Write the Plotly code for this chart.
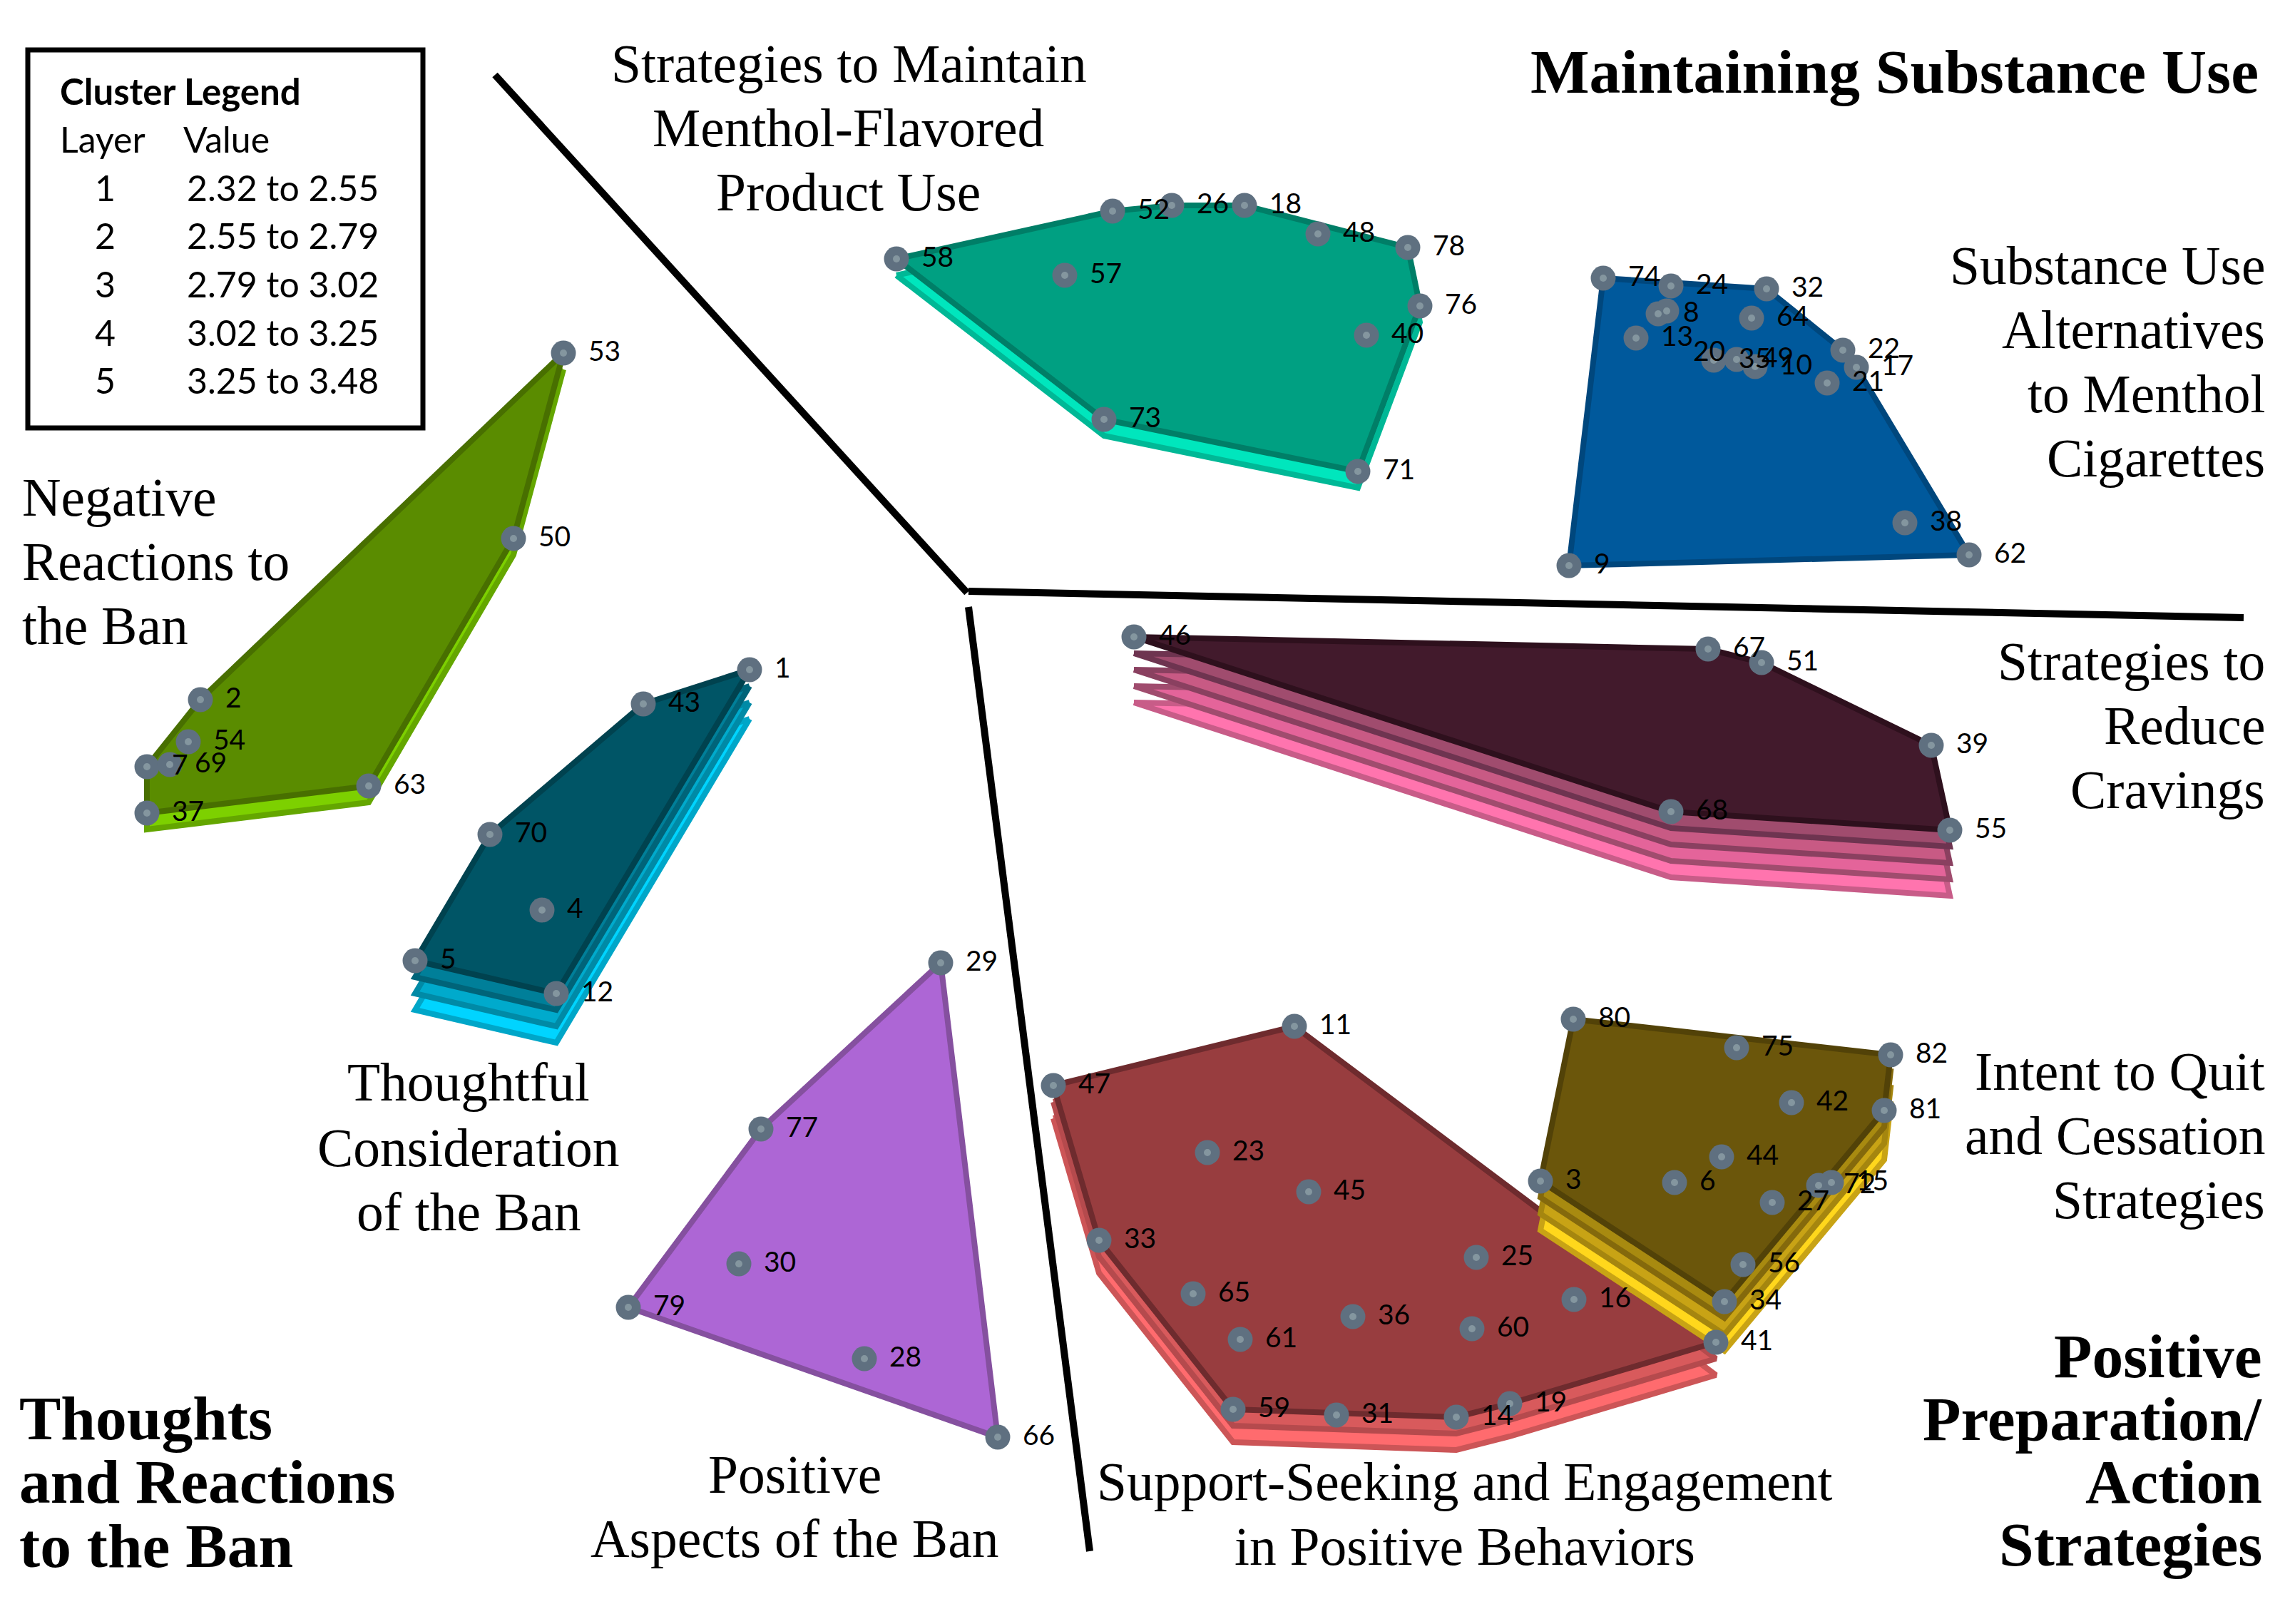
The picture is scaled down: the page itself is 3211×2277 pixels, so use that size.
import plotly.graph_objects as go

# Concept map points (x, y on the map plane)
concept_ids = [1,2,3,4,5,6,7,8,9,10,11,12,13,14,15,16,17,18,19,20,21,22,23,24,25,26,27,28,29,30,31,32,33,34,35,36,37,38,39,40,41,
               42,43,44,45,46,47,48,49,50,51,52,53,54,55,56,57,58,59,60,61,62,63,64,65,66,67,68,69,70,71,72,73,74,75,76,77,78,79,80,81,82]
concept_x = [1051,281,2160,760,582,2348,206,2325,2200,2461,1815,780,2294,2042,2568,2207,2603,1745,2117,2337,2562,2584,1693,2343,2070,1643,2485,1212,1319,1036,1874,2477,1541,2418,2403,1897,206,2671,2708,1916,2406,
             2512,902,2414,1835,1590,1477,1848,2435,720,2470,1560,790,264,2734,2444,1493,1257,1729,2064,1739,2761,517,2456,1673,1399,2395,2343,238,687,1904,2550,1548,2248,2435,1991,1067,1974,881,2206,2642,2651]
concept_y = [939,981,1656,1276,1347,1658,1075,440,793,514,1439,1393,474,1987,1658,1822,515,288,1968,436,537,491,1616,401,1763,288,1686,1905,1350,1772,1984,405,1739,1825,505,1846,1140,733,1045,470,1882,
             1546,987,1622,1671,893,1522,328,504,755,929,296,495,1040,1164,1773,386,363,1976,1863,1878,778,1102,446,1814,2015,910,1138,1072,1170,661,1662,588,390,1469,429,1583,347,1833,1429,1557,1479]

# Cluster outlines (concept ids) and layer colours, bottom layer first
clusters = ["Support-Seeking", "Intent to Quit", "Negative Reactions", "Thoughtful", "Menthol Product", "Alternatives", "Cravings", "Positive Aspects"]
cluster_hulls = [
    [47,11,41,19,14,59,33],
    [80,82,81,34,3],
    [53,50,63,37,7,2],
    [1,43,70,5,12],
    [58,52,26,18,78,76,71,73],
    [74,32,22,17,62,9],
    [46,67,51,39,55,68],
    [29,66,79,77],
]
cluster_fills = [
    ["#ff6b6e", "#d85a5c", "#983d3f"],
    ["#ffd71c", "#c8a315", "#a88a10", "#6b560b"],
    ["#7dd000", "#5a8c00"],
    ["#00d4ff", "#00aacc", "#007f99", "#005566"],
    ["#00e6bd", "#00a082"],
    ["#00599c"],
    ["#ff74ae", "#e4649a", "#c85a84", "#a04c6e", "#421a2c"],
    ["#ad66d5"],
]
cluster_edges = [
    ["#cc5557", "#b54a4d", "#6e2b2e"],
    ["#c8a315", "#a5860f", "#84690c", "#524208"],
    ["#64a600", "#486f00"],
    ["#00a6c8", "#008aa6", "#006479", "#00424f"],
    ["#00b896", "#007e67"],
    ["#00477d"],
    ["#c85c88", "#a04c6e", "#8a4060", "#6e3450", "#2e101d"],
    ["#85509f"],
]

divider_x = [[694, 1356], [1358, 3146], [1358, 1528]]
divider_y = [[105, 831], [829, 866], [851, 2175]]

legend_header = ["Layer", "Value"]
legend_layers = ["1", "2", "3", "4", "5"]
legend_ranges = ["2.32 to 2.55", "2.55 to 2.79", "2.79 to 3.02", "3.02 to 3.25", "3.25 to 3.48"]

# (text, x, y, anchor)
region_titles = [
    ("Maintaining Substance Use", 3169, 100, "right"),
    ("Thoughts", 25, 1988, "left"), ("and Reactions", 25, 2077, "left"), ("to the Ban", 25, 2167, "left"),
    ("Positive", 3174, 1901, "right"), ("Preparation/", 3174, 1989, "right"), ("Action", 3174, 2077, "right"), ("Strategies", 3174, 2165, "right"),
]
cluster_titles = [
    ("Strategies to Maintain", 1190, 89, "center"), ("Menthol-Flavored", 1189, 179, "center"), ("Product Use", 1189, 269, "center"),
    ("Substance Use", 3178, 372, "right"), ("Alternatives", 3178, 462, "right"), ("to Menthol", 3178, 552, "right"), ("Cigarettes", 3178, 642, "right"),
    ("Negative", 29, 697, "left"), ("Reactions to", 29, 787, "left"), ("the Ban", 29, 877, "left"),
    ("Strategies to", 3178, 927, "right"), ("Reduce", 3178, 1017, "right"), ("Cravings", 3178, 1107, "right"),
    ("Thoughtful", 657, 1517, "center"), ("Consideration", 657, 1609, "center"), ("of the Ban", 657, 1699, "center"),
    ("Intent to Quit", 3178, 1502, "right"), ("and Cessation", 3178, 1592, "right"), ("Strategies", 3178, 1682, "right"),
    ("Positive", 1114, 2067, "center"), ("Aspects of the Ban", 1114, 2157, "center"),
    ("Support-Seeking and Engagement", 2054, 2077, "center"), ("in Positive Behaviors", 2054, 2168, "center"),
]

LAYER_DROP = 23
where = {i: (x, y) for i, x, y in zip(concept_ids, concept_x, concept_y)}

fig = go.Figure()

for hull, fills, edges in zip(cluster_hulls, cluster_fills, cluster_edges):
    n = len(fills)
    for k, (fill, edge) in enumerate(zip(fills, edges)):
        drop = (n - 1 - k) * LAYER_DROP
        xs = [where[i][0] for i in hull] + [where[hull[0]][0]]
        ys = [where[i][1] + drop for i in hull] + [where[hull[0]][1] + drop]
        fig.add_trace(go.Scatter(x=xs, y=ys, mode="lines", fill="toself", fillcolor=fill,
                                 line=dict(color=edge, width=8), hoverinfo="skip", showlegend=False))

for dx, dy in zip(divider_x, divider_y):
    fig.add_trace(go.Scatter(x=dx, y=dy, mode="lines", line=dict(color="black", width=10),
                             hoverinfo="skip", showlegend=False))

fig.add_trace(go.Scatter(x=concept_x, y=concept_y, mode="markers",
                         marker=dict(size=35, color="#5f7080", line=dict(width=0)),
                         hoverinfo="skip", showlegend=False))
fig.add_trace(go.Scatter(x=concept_x, y=concept_y, mode="markers",
                         marker=dict(size=10, color="#84969f", line=dict(width=0)),
                         hoverinfo="skip", showlegend=False))

label_x = [x + 35 for x in concept_x]
label_y = [y + 1 for y in concept_y]
moved = concept_ids.index(20)
label_x[moved], label_y[moved] = 2374, 496
fig.add_trace(go.Scatter(x=label_x, y=label_y, mode="text", text=[str(i) for i in concept_ids],
                         textposition="middle right",
                         textfont=dict(family="Lato", size=39, color="black"),
                         hoverinfo="skip", showlegend=False))

def note(text, x, y, anchor, family, size, bold=False):
    fig.add_annotation(x=x, y=y, xref="x", yref="y", text=f"<b>{text}</b>" if bold else text,
                       showarrow=False, xanchor=anchor, yanchor="middle",
                       font=dict(family=family, size=size, color="black"))

for t, x, y, a in region_titles:
    note(t, x, y, a, "Liberation Serif", 87.5, True)
for t, x, y, a in cluster_titles:
    note(t, x, y, a, "Liberation Serif", 75.5)

SANS = "Lato"
note("Cluster Legend", 82, 127, "left", SANS, 51, True)
note(legend_header[0], 82, 195, "left", SANS, 50)
note(legend_header[1], 255, 195, "left", SANS, 50)
for lab, rng, y in zip(legend_layers, legend_ranges, [263, 330, 398, 466, 533]):
    note(lab, 147, y, "center", SANS, 50)
    note(rng, 260, y, "left", SANS, 50)

fig.add_shape(type="rect", xref="x", yref="y", x0=39, y0=70, x1=593, y1=600,
              line=dict(color="black", width=7), fillcolor="rgba(0,0,0,0)")

fig.update_layout(width=3211, height=2277, margin=dict(l=0, r=0, t=0, b=0),
                  paper_bgcolor="white", plot_bgcolor="white", showlegend=False,
                  xaxis=dict(range=[0, 3211], visible=False, fixedrange=True),
                  yaxis=dict(range=[2277, 0], visible=False, fixedrange=True))

fig.write_html("out.html", include_plotlyjs=True, config={"displayModeBar": False},
               post_script="document.body.style.margin='0';document.documentElement.style.margin='0';")
